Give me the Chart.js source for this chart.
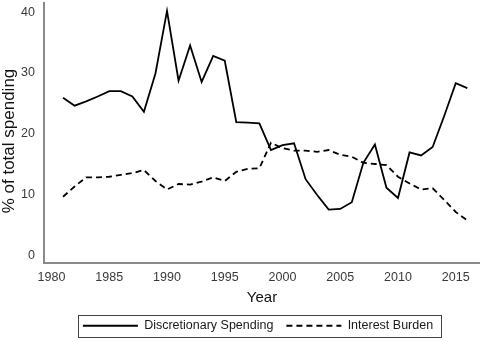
<!DOCTYPE html>
<html>
<head>
<meta charset="utf-8">
<script src="https://cdn.jsdelivr.net/npm/chart.js@4"></script>
<style>
  body { margin: 0; background: #fff; }
  #wrap { width: 480px; height: 342px; }
</style>
</head>
<body>
<div id="wrap"><canvas id="spending-chart" width="480" height="342"></canvas></div>
<script>
/*LINE: DISCRETIONARY SPENDING VS INTEREST BURDEN*/
const years = [1981, 1982, 1983, 1984, 1985, 1986, 1987, 1988, 1989, 1990,
               1991, 1992, 1993, 1994, 1995, 1996, 1997, 1998, 1999, 2000,
               2001, 2002, 2003, 2004, 2005, 2006, 2007, 2008, 2009, 2010,
               2011, 2012, 2013, 2014, 2015, 2016];

const discretionary = [25.9, 24.6, 25.3, 26.1, 27.0, 27.0, 26.1, 23.6, 29.9, 40.2,
                       28.7, 34.5, 28.5, 32.8, 32.0, 21.9, 21.8, 21.7, 17.3, 18.1,
                       18.4, 12.5, 9.9, 7.5, 7.6, 8.7, 15.2, 18.2, 11.1, 9.4,
                       16.9, 16.4, 17.8, 22.9, 28.3, 27.5];

const interest = [9.6, 11.3, 12.8, 12.8, 12.9, 13.2, 13.5, 14.0, 12.2, 10.8,
                  11.7, 11.6, 12.1, 12.8, 12.2, 13.7, 14.2, 14.3, 18.5, 17.6,
                  17.2, 17.2, 17.0, 17.3, 16.5, 16.2, 15.2, 15.0, 14.8, 12.9,
                  11.8, 10.8, 11.0, 9.1, 7.1, 5.7];

const seriesLabels = ['Discretionary Spending', 'Interest Burden'];
const xTitle = 'Year';
const yTitle = '% of total spending';

const fontFamily = '"Liberation Sans", Arial, sans-serif';
Chart.defaults.font.family = fontFamily;

// legend frame like the R plot (legend centred on the plot region, not the canvas)
const legendBorder = {
    id: 'legendBorder',
    afterLayout(chart) {
        chart.legend.left -= 4;
        chart.legend.right -= 4;
    },
    afterDraw(chart) {
        const boxes = chart.legend.legendHitBoxes;
        if (!boxes || !boxes.length) return;
        const left = Math.min(...boxes.map(b => b.left)) - 5;
        const right = Math.max(...boxes.map(b => b.left + b.width)) + 8;
        const mid = boxes[0].top + boxes[0].height / 2;
        const c = chart.ctx;
        c.save();
        c.strokeStyle = '#444';
        c.lineWidth = 1;
        c.setLineDash([]);
        c.strokeRect(Math.round(left) + 0.5, Math.round(mid - 11) + 0.5, Math.round(right - left), 22);
        c.restore();
    }
};

// y title sits a bit below the middle of the axis in the original
const yAxisTitle = {
    id: 'yAxisTitle',
    afterDraw(chart) {
        const s = chart.scales.y;
        const c = chart.ctx;
        c.save();
        c.translate(s.left + 9, (s.top + s.bottom) / 2 + 8);
        c.rotate(-Math.PI / 2);
        c.font = '17px ' + fontFamily;
        c.fillStyle = '#111';
        c.textAlign = 'center';
        c.textBaseline = 'middle';
        c.fillText(yTitle, 0, 0);
        c.restore();
    }
};

const ctx_spending = document.getElementById('spending-chart').getContext('2d');
const spendingChart = new Chart(ctx_spending, {
    type: 'line',
    data: {
        datasets: [{
            label: seriesLabels[0],
            data: years.map((y, i) => ({x: y, y: discretionary[i]})),
            borderColor: '#000',
            backgroundColor: 'transparent',
            borderWidth: 1.8,
            pointRadius: 0,
            tension: 0
        }, {
            label: seriesLabels[1],
            data: years.map((y, i) => ({x: y, y: interest[i]})),
            borderColor: '#000',
            backgroundColor: 'transparent',
            borderWidth: 1.8,
            borderDash: [6, 4],
            pointRadius: 0,
            tension: 0
        }]
    },
    options: {
        responsive: false,
        animation: false,
        layout: {
            padding: {top: 3, right: 0, left: 0, bottom: 0}
        },
        plugins: {
            tooltip: {enabled: false},
            legend: {
                position: 'bottom',
                fullSize: false,
                labels: {
                    usePointStyle: true,
                    pointStyle: 'line',
                    pointStyleWidth: 55,
                    padding: 13,
                    color: '#1a1a1a',
                    font: {size: 12.5},
                    generateLabels(chart) {
                        const items = Chart.defaults.plugins.legend.labels.generateLabels(chart);
                        items.forEach(item => {
                            const ds = chart.data.datasets[item.datasetIndex];
                            item.lineDash = ds.borderDash || [];
                            item.lineWidth = ds.borderWidth;
                            item.strokeStyle = ds.borderColor;
                        });
                        return items;
                    }
                }
            }
        },
        scales: {
            x: {
                type: 'linear',
                min: 1979.35,
                max: 2017.1,
                afterFit: s => { s.height = 43.5; s.paddingLeft = 0; s.paddingRight = 0; },
                grid: {display: false, drawTicks: false},
                border: {display: true, color: '#8a8a8a', width: 2},
                ticks: {
                    stepSize: 5,
                    includeBounds: false,
                    padding: 7,
                    color: '#3a3a3a',
                    font: {size: 12.5},
                    maxRotation: 0,
                    callback: v => String(v)
                },
                title: {
                    display: true,
                    text: xTitle,
                    color: '#111',
                    font: {size: 15},
                    padding: {top: 0, bottom: 0}
                }
            },
            y: {
                min: -1.3,
                max: 41.5,
                afterFit: s => { s.width = 44; s.paddingTop = 0; s.paddingBottom = 0; },
                grid: {display: false, drawTicks: false},
                border: {display: true, color: '#8a8a8a', width: 2},
                ticks: {
                    stepSize: 10,
                    includeBounds: false,
                    padding: 9,
                    color: '#3a3a3a',
                    font: {size: 12.5}
                },
                title: {display: false}
            }
        }
    },
    plugins: [legendBorder, yAxisTitle]
});
</script>
</body>
</html>
